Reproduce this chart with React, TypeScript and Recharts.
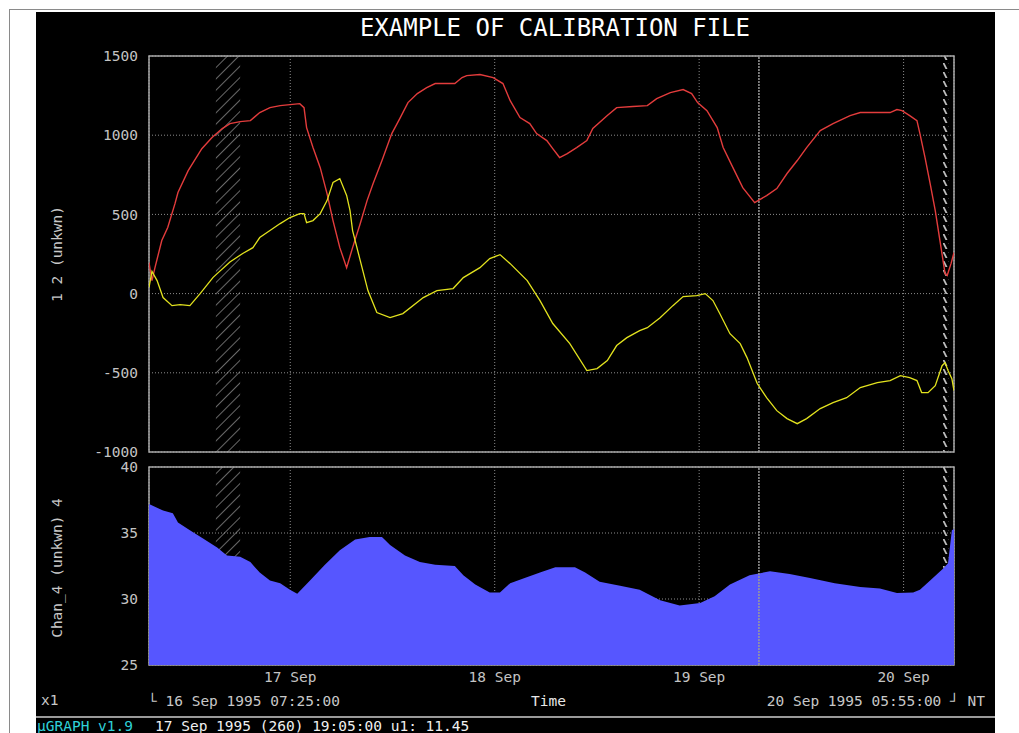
import {
  Area,
  AreaChart,
  CartesianGrid,
  ComposedChart,
  Line,
  ReferenceArea,
  ReferenceLine,
  XAxis,
  YAxis,
} from 'recharts'

const MONO = "'DejaVu Sans Mono', 'Liberation Mono', monospace"

// time axis: hours since 16 Sep 1995 07:25:00, ends 20 Sep 1995 05:55:00
const START_OFFSET_H = 7 + 25 / 60
const END_H = 94.5
const dayLabels = ['17 Sep', '18 Sep', '19 Sep', '20 Sep']
const dayTicks = dayLabels.map((_, i) => (i + 1) * 24 - START_OFFSET_H)

const topTicks = [-1000, -500, 0, 500, 1000, 1500]
const bottomTicks = [25, 30, 35, 40]

// marked spans and cursor, in hours
const hatchWide = [7.85, 10.7]
const hatchNarrow = [93.2, 93.9]
const cursorHour = 71.6

const chan1Hours = [
  0, 0.35, 0.7, 1.5, 2.2, 3.05, 3.4, 4.6, 6.2, 7.4, 8.6, 9.5, 10.7, 11.9, 13.0, 14.2, 15.4,
  16.55, 17.7, 18.2, 18.5, 19.25, 20.1, 20.9, 21.6, 22.4, 23.2, 23.9, 24.8, 25.6, 26.3, 27.35,
  28.5, 29.5, 30.4, 31.5, 32.6, 33.6, 35.9, 36.75, 37.3, 38.85, 40.4, 41.55, 42.4, 43.55, 44.7,
  45.5, 46.7, 47.4, 48.2, 49.1, 50.2, 51.4, 52.1, 53.8, 54.9, 56.8, 58.5, 59.6, 61.2, 62.7, 63.7,
  64.4, 65.5, 66.7, 67.4, 68.55, 69.7, 71.1, 72.5, 73.7, 74.9, 76.1, 77.2, 78.8, 80.3, 82.3,
  83.5, 87.0, 87.8, 88.4, 89.3, 90.15, 90.5, 91.1, 91.7, 92.3, 92.85, 93.45, 93.7, 94.15, 94.5,
]
const chan1Values = [
  196, 82, 164, 335, 417, 568, 638, 776, 915, 985, 1042, 1073, 1086, 1092, 1143, 1174, 1187,
  1193, 1199, 1174, 1048, 922, 795, 631, 461, 290, 164, 290, 442, 587, 694, 840,
  1010, 1111, 1206, 1263, 1300, 1326, 1326, 1364, 1376, 1383, 1364, 1326, 1218, 1111, 1073,
  1010, 966, 915, 859, 884, 922, 966, 1042, 1124, 1174, 1181, 1187, 1231, 1269, 1288, 1263,
  1206, 1155, 1048, 922, 795, 669, 574, 619, 663, 758, 840, 922, 1029, 1073, 1124,
  1143, 1143, 1162, 1155, 1124, 1092, 1010, 859, 694, 524, 335, 126, 114, 189, 259,
]

const chan2Hours = [
  0, 0.35, 0.95, 1.65, 2.7, 3.65, 4.8, 6.0, 7.5, 8.0, 9.5, 11.0, 12.2, 13.0, 14.2, 15.4, 16.55,
  17.7, 18.2, 18.5, 19.25, 20.1, 20.9, 21.6, 22.4, 23.2, 23.6, 23.9, 24.8, 25.7, 26.75, 28.3,
  29.8, 32.2, 33.8, 35.7, 36.9, 38.85, 40.0, 41.2, 42.4, 44.4, 45.9, 47.4, 49.4, 51.4, 52.6,
  53.8, 54.9, 56.1, 57.6, 58.5, 60.0, 61.5, 62.7, 64.3, 65.3, 66.2, 67.0, 68.2, 69.4, 70.2,
  71.4, 72.5, 73.7, 74.9, 76.1, 77.2, 78.8, 80.3, 81.9, 83.5, 85.5, 87.0, 88.2, 89.3, 90.15,
  90.7, 91.45, 92.3, 93.1, 93.45, 93.8, 94.25, 94.5,
]
const chan2Values = [
  40, 140, 82, -25, -76, -69, -76, 0, 101, 126, 200, 253, 290, 354, 398, 442, 480,
  505, 505, 448, 461, 505, 587, 701, 726, 620, 524, 398, 208, 19, -120, -152,
  -126, -25, 19, 32, 101, 164, 221, 246, 189, 82, -44, -189, -316, -486, -473,
  -423, -328, -278, -234, -215, -152, -76, -19, -13, 0, -44, -126, -253, -316, -404,
  -568, -657, -739, -789, -821, -789, -726, -688, -657, -593, -562, -549, -518, -530, -549,
  -625, -625, -581, -455, -436, -486, -537, -612,
]

const chan4Hours = [
  0, 1.65, 2.8, 3.4, 4.8, 6.3, 8.0, 9.15, 10.7, 11.9, 13.0, 14.2, 15.4, 16.55, 17.4, 18.9,
  20.65, 22.4, 24.2, 25.9, 27.35, 28.3, 30.05, 31.8, 33.6, 35.9, 36.9, 38.3, 40.0, 41.2, 42.4,
  44.1, 45.9, 47.7, 50.0, 51.2, 52.9, 55.3, 57.6, 60.0, 62.3, 64.7, 66.4, 68.2, 70.5, 72.9,
  75.2, 77.6, 80.5, 83.5, 85.8, 87.8, 89.7, 90.5, 91.7, 93.2, 93.8, 94.25, 94.5,
]
const chan4Values = [
  37.2, 36.7, 36.5, 35.8, 35.2, 34.6, 33.9, 33.3, 33.2, 32.8, 32.0, 31.4, 31.2, 30.7, 30.4, 31.4,
  32.6, 33.7, 34.5, 34.7, 34.7, 34.1, 33.3, 32.8, 32.6, 32.5, 31.8, 31.1, 30.5, 30.5, 31.2,
  31.6, 32.0, 32.4, 32.4, 32.0, 31.3, 31.0, 30.7, 29.9, 29.5, 29.7, 30.2, 31.1, 31.8, 32.1,
  31.9, 31.6, 31.2, 30.9, 30.8, 30.45, 30.5, 30.7, 31.4, 32.3, 32.7, 35.2, 35.3,
]

const toRows = (hours: number[], values: number[]) =>
  hours.map((t, i) => ({ t, v: values[i] }))

const chan1Rows = toRows(chan1Hours, chan1Values)
const chan2Rows = toRows(chan2Hours, chan2Values)
const chan4Rows = toRows(chan4Hours, chan4Values)

const FRAME = '#a8a8a8'
const GRID = '#8c8c8c'
const TICK_STYLE = { fill: '#c4c4c4', fontSize: 14.5, fontFamily: MONO }

function dayTick(value: number): string {
  const idx = dayTicks.findIndex((d) => Math.abs(d - value) < 0.01)
  return idx >= 0 ? dayLabels[idx] : ''
}

function HatchDefs() {
  return (
    <defs>
      <pattern id="hatchWide" width="8" height="8" patternUnits="userSpaceOnUse" patternTransform="rotate(45)">
        <line x1="0" y1="0" x2="0" y2="8" stroke="#a0a0a0" strokeWidth="1.3" />
      </pattern>
      <pattern id="hatchNarrow" width="6" height="9" patternUnits="userSpaceOnUse">
        <path d="M0.5,0 L2.5,0 L5.5,6 L3.5,6 Z" fill="#bdbdbd" />
      </pattern>
    </defs>
  )
}

function text(style: React.CSSProperties, content: string, color = '#c8c8c8') {
  return (
    <div
      style={{
        position: 'absolute',
        fontFamily: MONO,
        fontSize: 14.5,
        lineHeight: '14.5px',
        whiteSpace: 'pre',
        color,
        ...style,
      }}
    >
      {content}
    </div>
  )
}

function axisTitle(top: number, content: string) {
  return (
    <div
      style={{
        position: 'absolute',
        left: 57,
        top,
        transform: 'translate(-50%, -50%) rotate(-90deg)',
        fontFamily: MONO,
        fontSize: 14.5,
        lineHeight: '14.5px',
        color: '#c8c8c8',
        whiteSpace: 'pre',
      }}
    >
      {content}
    </div>
  )
}

export default function App() {
  return (
    <div
      style={{
        position: 'absolute',
        left: 0,
        top: 0,
        width: 1019,
        height: 733,
        background: '#ffffff',
        overflow: 'hidden',
      }}
    >
      <div style={{ position: 'absolute', left: 9, top: 9, width: 1010, height: 1, background: '#8a8a8a' }} />
      <div style={{ position: 'absolute', left: 9, top: 9, width: 1, height: 724, background: '#8a8a8a' }} />
      <div style={{ position: 'absolute', left: 36, top: 12, width: 959, height: 721, background: '#000000' }} />

      <div
        style={{
          position: 'absolute',
          left: 355,
          width: 400,
          top: 16,
          textAlign: 'center',
          fontFamily: MONO,
          fontSize: 24,
          lineHeight: '24px',
          color: '#ffffff',
        }}
      >
        EXAMPLE OF CALIBRATION FILE
      </div>

      <div style={{ position: 'absolute', left: 0, top: 0 }}>
        <ComposedChart width={1019} height={462} margin={{ top: 56, right: 65, bottom: 10, left: 89 }}>
          <HatchDefs />
          <CartesianGrid stroke={GRID} strokeDasharray="1 2" />
          <XAxis
            dataKey="t"
            type="number"
            domain={[0, END_H]}
            ticks={dayTicks}
            allowDataOverflow
            hide
          />
          <YAxis
            type="number"
            domain={[-1000, 1500]}
            ticks={topTicks}
            interval={0}
            width={60}
            axisLine={false}
            tickLine={false}
            tickMargin={5}
            tick={TICK_STYLE}
            allowDataOverflow
          />
          <ReferenceArea x1={hatchWide[0]} x2={hatchWide[1]} y1={-1000} y2={1500} fill="url(#hatchWide)" fillOpacity={1} />
          <ReferenceArea x1={hatchNarrow[0]} x2={hatchNarrow[1]} y1={-1000} y2={1500} fill="url(#hatchNarrow)" fillOpacity={1} />
          <ReferenceLine x={cursorHour} stroke="#9a9a9a" strokeWidth={1.5} strokeDasharray="2 1" />
          <Line
            data={chan1Rows}
            dataKey="v"
            type="linear"
            stroke="#e33c3c"
            strokeWidth={1.4}
            dot={false}
            isAnimationActive={false}
          />
          <Line
            data={chan2Rows}
            dataKey="v"
            type="linear"
            stroke="#e2e21e"
            strokeWidth={1.3}
            dot={false}
            isAnimationActive={false}
          />
          <ReferenceArea x1={0} x2={END_H} y1={-1000} y2={1500} fill="none" stroke={FRAME} strokeWidth={1.5} />
        </ComposedChart>
      </div>

      <div style={{ position: 'absolute', left: 0, top: 440 }}>
        <AreaChart width={1019} height={260} data={chan4Rows} margin={{ top: 27, right: 65, bottom: 10, left: 89 }}>
          <HatchDefs />
          <CartesianGrid stroke={GRID} strokeDasharray="1 2" />
          <XAxis
            dataKey="t"
            type="number"
            domain={[0, END_H]}
            ticks={dayTicks}
            interval={0}
            tickFormatter={dayTick}
            height={25}
            axisLine={false}
            tickLine={false}
            tickSize={6}
            tickMargin={1}
            tick={TICK_STYLE}
            allowDataOverflow
          />
          <YAxis
            type="number"
            domain={[25, 40]}
            ticks={bottomTicks}
            interval={0}
            width={60}
            axisLine={false}
            tickLine={false}
            tickMargin={5}
            tick={TICK_STYLE}
            allowDataOverflow
          />
          <ReferenceArea x1={0} x2={END_H} y1={25} y2={40} fill="none" stroke={FRAME} strokeWidth={1.5} />
          <ReferenceArea x1={hatchWide[0]} x2={hatchWide[1]} y1={25} y2={40} fill="url(#hatchWide)" fillOpacity={1} />
          <ReferenceArea x1={hatchNarrow[0]} x2={hatchNarrow[1]} y1={25} y2={40} fill="url(#hatchNarrow)" fillOpacity={1} />
          <ReferenceLine x={cursorHour} stroke="#9a9a9a" strokeWidth={1.5} strokeDasharray="2 1" />
          <Area
            dataKey="v"
            type="linear"
            baseValue={25}
            stroke="none"
            fill="#5656ff"
            fillOpacity={1}
            isAnimationActive={false}
          />
        </AreaChart>
      </div>

      {axisTitle(254, '1 2 (unkwn)')}
      {axisTitle(568, 'Chan_4 (unkwn) 4')}

      {text({ left: 41, top: 693 }, 'x1')}
      {text({ left: 148, top: 694 }, '└ 16 Sep 1995 07:25:00')}
      {text({ left: 531, top: 694 }, 'Time', '#e8e8e8')}
      {text({ right: 34, top: 694 }, '20 Sep 1995 05:55:00 ┘ NT')}

      <div style={{ position: 'absolute', left: 36, top: 716, width: 959, height: 2, background: '#9a9a9a' }} />
      {text({ left: 37, top: 719 }, 'µGRAPH v1.9', '#2fd0d8')}
      {text({ left: 155, top: 719 }, '17 Sep 1995 (260) 19:05:00 u1: 11.45', '#f0f0f0')}
    </div>
  )
}
